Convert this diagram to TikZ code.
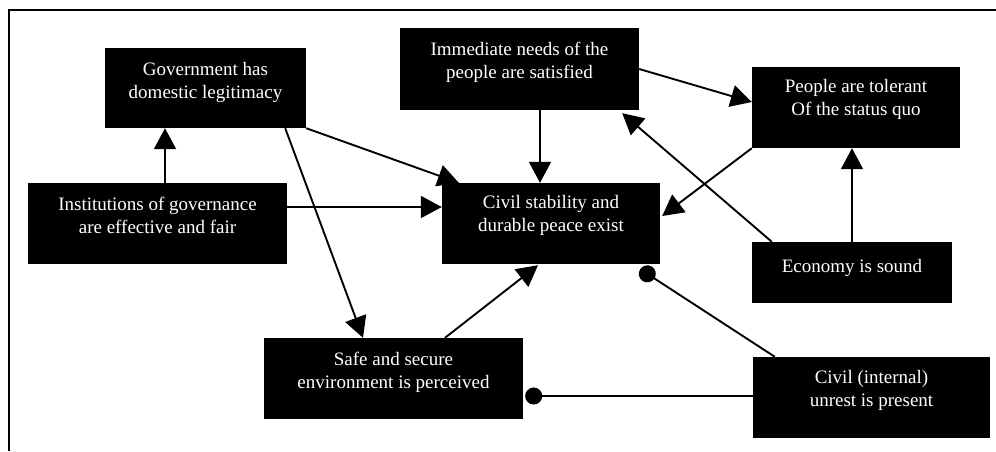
\documentclass[tikz,border=0pt]{standalone}
\usepackage{fontspec}
\setmainfont{Liberation Serif}
\usetikzlibrary{arrows.meta}
\tikzset{
  box/.style={fill=black, inner sep=0pt},
  txt/.style={text=white, align=center, font=\fontsize{19}{23}\selectfont, inner sep=0pt},
  arr/.style={line width=1.9pt, -{Triangle[length=21pt,width=22pt]}},
  dotarr/.style={line width=1.9pt, -{Circle[length=17pt]}},
  frame/.style={line width=2pt}
}
\begin{document}
\begin{tikzpicture}[x=1pt,y=-1pt]
\useasboundingbox (0,0) rectangle (996,451);
% frame (top and left edges visible)
\coordinate (fbl) at (9,451);
\coordinate (ftl) at (9,10);
\coordinate (ftr) at (996,10);
\draw[frame] (fbl) -- (ftl) -- (ftr);

% boxes
\node[box, minimum width=201pt, minimum height=80pt] (gov) at (205.5,88) {};
\node[box, minimum width=259pt, minimum height=81pt] (inst) at (157.5,223.5) {};
\node[box, minimum width=239pt, minimum height=82pt] (imm) at (519.5,69) {};
\node[box, minimum width=208pt, minimum height=81pt] (tol) at (856,107.5) {};
\node[box, minimum width=218pt, minimum height=81pt] (cs) at (551,223.5) {};
\node[box, minimum width=200pt, minimum height=61pt] (eco) at (852,272.5) {};
\node[box, minimum width=259pt, minimum height=81pt] (safe) at (393.5,378.5) {};
\node[box, minimum width=237pt, minimum height=81pt] (unrest) at (871.5,397.5) {};

% texts
\node[txt] (gov-t) at ([yshift=6pt]gov.center) {Government has\\domestic legitimacy};
\node[txt] (inst-t) at ([yshift=8pt]inst.center) {Institutions of governance\\are effective and fair};
\node[txt] (imm-t) at ([yshift=6.5pt]imm.center) {Immediate needs of the\\people are satisfied};
\node[txt] (tol-t) at ([yshift=8pt]tol.center) {People are tolerant\\Of the status quo};
\node[txt] (cs-t) at ([yshift=8pt]cs.center) {Civil stability and\\durable peace exist};
\node[txt] (eco-t) at ([yshift=5pt]eco.center) {Economy is sound};
\node[txt] (safe-t) at ([yshift=6pt]safe.center) {Safe and secure\\environment is perceived};
\node[txt] (unrest-t) at ([yshift=7pt]unrest.center) {Civil (internal)\\unrest is present};

% connectors
\coordinate (a1) at ([xshift=7.5pt]inst.north);
\draw[arr] (a1) -- (a1 |- gov.south);

\coordinate (a2) at ([yshift=16.5pt]inst.east);
\draw[arr] (a2) -- (a2 -| cs.west);

\draw[arr] (gov.south east) -- ([xshift=17pt]cs.north west);

\draw[arr] ([xshift=-21pt]gov.south east) -- ([xshift=-30.5pt]safe.north);

\coordinate (a5) at ([xshift=20.5pt]imm.south);
\draw[arr] (a5) -- (a5 |- cs.north);

\draw[arr] (imm.east) -- ([yshift=5.5pt]tol.west);

\draw[arr] ([xshift=20pt]eco.north west) -- ([xshift=-17pt,yshift=-3pt]imm.south east);

\draw[arr] (eco.north) -- (eco.north |- tol.south);

\draw[arr] (tol.south west) -- ([xshift=2pt,yshift=7.5pt]cs.east);

\draw[arr] ([xshift=51.5pt]safe.north) -- ([xshift=-13pt,yshift=-1pt]cs.south);

\draw[dotarr] ([xshift=22pt]unrest.north west) -- ([xshift=-20pt,yshift=-5pt]cs.south east);

\coordinate (a12) at ([yshift=1.5pt]unrest.west);
\coordinate (b12) at (a12 -| safe.east);
\draw[dotarr] (a12) -- ([xshift=2pt]b12);
\end{tikzpicture}
\end{document}
